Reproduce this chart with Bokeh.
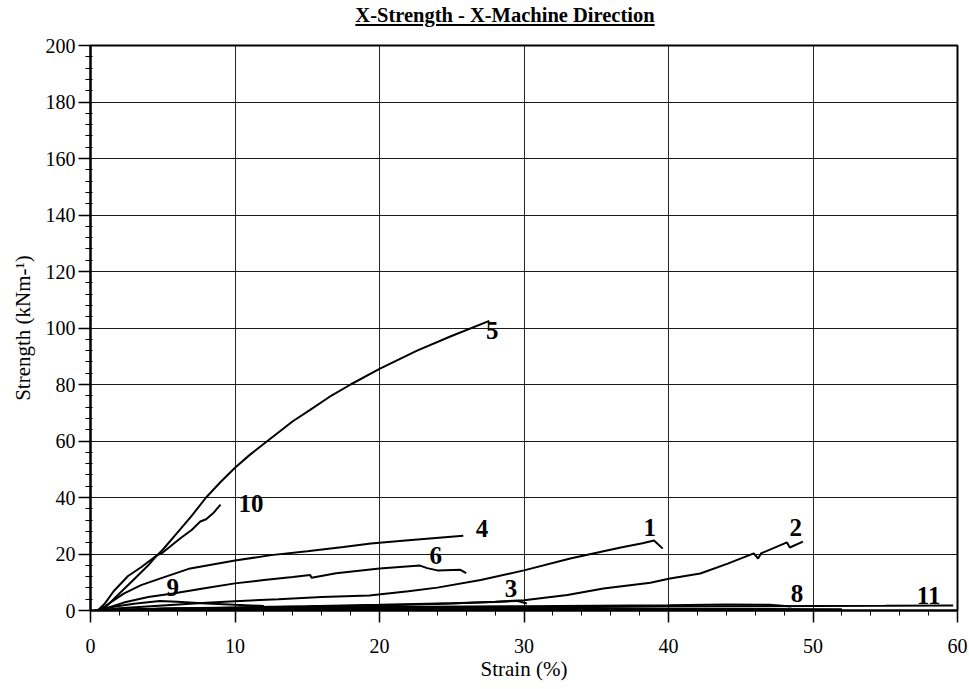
from bokeh.plotting import figure
from bokeh.models import Range1d, SingleIntervalTicker, Div, ColumnDataSource
from bokeh.layouts import column
from bokeh.core.properties import value
from bokeh.embed import file_html
from bokeh.resources import INLINE

# ---- data ----
c1_x = [0.5, 2, 5, 8, 10, 13, 16, 19.3, 22, 24, 27, 30, 33.2, 36.7, 38.2, 39, 39.6]
c1_y = [0, 0.8, 1.8, 2.7, 3.3, 4, 4.8, 5.3, 6.8, 8.1, 10.8, 14.2, 18.4, 22.3, 23.8, 24.8, 21.9]

c2_x = [0.5, 5, 10, 15, 20, 25, 28, 30, 33, 35.5, 38.75, 40.1, 42.2, 44.1, 45.9, 46.2, 46.4, 48.2, 48.4, 49.3]
c2_y = [0, 0.6, 1.0, 1.4, 1.8, 2.5, 3.1, 3.6, 5.5, 7.8, 9.8, 11.3, 13.1, 16.6, 20.2, 18.4, 20.2, 24.1, 22.3, 24.4]

c3_x = [0.5, 5, 10, 15, 20, 25, 28, 29.5, 30.2]
c3_y = [0, 0.7, 1.1, 1.5, 2.0, 2.6, 3.0, 3.4, 2.5]

c4_x = [0.5, 1, 2.3, 3.5, 4.8, 6.9, 10, 12.5, 15, 17.5, 19.4, 22, 25.8]
c4_y = [0, 1.5, 6, 9, 11.3, 14.9, 17.7, 19.6, 21, 22.5, 23.7, 24.9, 26.5]

c5_x = [0.7, 1, 2, 3, 4, 4.6, 5, 6, 7, 8, 9, 10, 11, 12, 13, 14, 15.2, 16.5, 18, 20, 22.6, 24.9, 27.6]
c5_y = [0, 1, 6, 11, 16, 19.5, 21.5, 27.5, 33.5, 40, 45.5, 50.5, 55, 59, 63, 67, 71, 75.5, 80, 85.5, 92, 97, 102.5]

c6_x = [0.5, 1, 2.3, 4, 5.7, 8, 10, 12, 14, 15.2, 15.3, 17, 20, 22.8, 23.3, 24, 25.6, 26]
c6_y = [0, 0.6, 2.8, 4.8, 6, 8, 9.6, 10.8, 11.9, 12.6, 11.6, 13.2, 14.9, 15.9, 15, 14.2, 14.4, 13.2]

c7_x = [0.3, 10, 20, 30, 40, 46, 52]
c7_y = [0, 0.3, 0.4, 0.5, 0.5, 0.5, 0.4]

c8_x = [0.5, 5, 10, 20, 30, 40, 44, 47, 48.5]
c8_y = [0, 0.6, 0.9, 1.2, 1.5, 1.9, 2.1, 2.0, 1.4]

c9_x = [0.3, 1.5, 3, 4.8, 6, 8, 10, 12]
c9_y = [0, 1.2, 2.4, 3.4, 3.1, 2.5, 2.0, 1.6]

c10_x = [0.5, 1, 1.6, 2.6, 3.5, 4.6, 5, 6.2, 7, 7.6, 8, 8.5, 9]
c10_y = [0, 2.5, 6.8, 12.2, 15.3, 19.5, 20.5, 25.5, 28.5, 31.5, 32.3, 34.5, 37.5]

c11_x = [0.5, 10, 20, 30, 40, 50, 55, 59.7]
c11_y = [0, 0.5, 0.8, 1.1, 1.4, 1.6, 1.7, 1.8]

label_text = ["1", "2", "3", "4", "5", "6", "8", "9", "10", "11"]
label_x = [38.7, 48.8, 29.1, 27.1, 27.8, 23.9, 48.9, 5.7, 11.1, 58.0]
label_y = [29.5, 29.4, 7.8, 29.0, 99.0, 19.5, 6.0, 8.1, 37.9, 5.3]

title_text = "X-Strength - X-Machine Direction"
x_label = "Strain (%)"
y_label = "Strength (kNm-\u00b9)"

SERIF = "'Liberation Serif', serif"

title = Div(
    text=f'<div style="display:block; width:928px; margin-left:41px; text-align:center; '
         f'font-family:\'Liberation Serif\', serif; font-weight:bold; font-size:20.5px; '
         f'text-decoration:underline; line-height:30px; color:black;">{title_text}</div>',
    width=969, height=30, margin=0,
)

p = figure(
    frame_width=867, frame_height=565,
    min_border_left=90, min_border_right=12, min_border_top=15, min_border_bottom=79,
    x_range=Range1d(0, 60), y_range=Range1d(0, 200),
    output_backend="svg", toolbar_location=None,
    background_fill_color="white", border_fill_color="white",
)

p.outline_line_color = "black"
p.outline_line_width = 2

p.xaxis.ticker = SingleIntervalTicker(interval=10, num_minor_ticks=5)
p.yaxis.ticker = SingleIntervalTicker(interval=20, num_minor_ticks=5)

for ax in (p.xaxis[0], p.yaxis[0]):
    ax.axis_line_color = "black"
    ax.axis_line_width = 2
    ax.major_tick_line_color = "black"
    ax.major_tick_line_width = 1.5
    ax.minor_tick_line_color = "black"
    ax.major_tick_in = 0
    ax.major_tick_out = 12
    ax.major_label_text_font = SERIF
    ax.major_label_text_font_size = "20px"
    ax.major_label_text_color = "black"
    ax.axis_label_text_font = SERIF
    ax.axis_label_text_font_size = "21px"
    ax.axis_label_text_font_style = "normal"
    ax.axis_label_text_color = "black"

p.xaxis.minor_tick_in = 0
p.xaxis.minor_tick_out = 5
p.yaxis.minor_tick_in = 2
p.yaxis.minor_tick_out = 5
p.xaxis.major_label_standoff = 16
p.yaxis.major_label_standoff = 3
p.xaxis.axis_label = x_label
p.yaxis.axis_label = y_label
p.xaxis.axis_label_standoff = 1
p.yaxis.axis_label_standoff = 8

p.xgrid.grid_line_color = "black"
p.ygrid.grid_line_color = "black"
p.xgrid.grid_line_width = 1
p.ygrid.grid_line_width = 1
p.xgrid.grid_line_alpha = 0.85
p.ygrid.grid_line_alpha = 0.9

curves = [(c1_x, c1_y), (c2_x, c2_y), (c3_x, c3_y), (c4_x, c4_y), (c5_x, c5_y),
          (c6_x, c6_y), (c7_x, c7_y), (c8_x, c8_y), (c9_x, c9_y), (c10_x, c10_y),
          (c11_x, c11_y)]
for cx, cy in curves:
    p.line(cx, cy, line_color="black", line_width=2)

src = ColumnDataSource(dict(x=label_x, y=label_y, t=label_text))
p.text(x="x", y="y", text="t", source=src,
       text_font=value(SERIF), text_font_style="bold", text_font_size="25px",
       text_align="center", text_baseline="middle", text_color="black")

layout = column(title, p, spacing=0)
open("out.html", "w").write(file_html(layout, INLINE))
